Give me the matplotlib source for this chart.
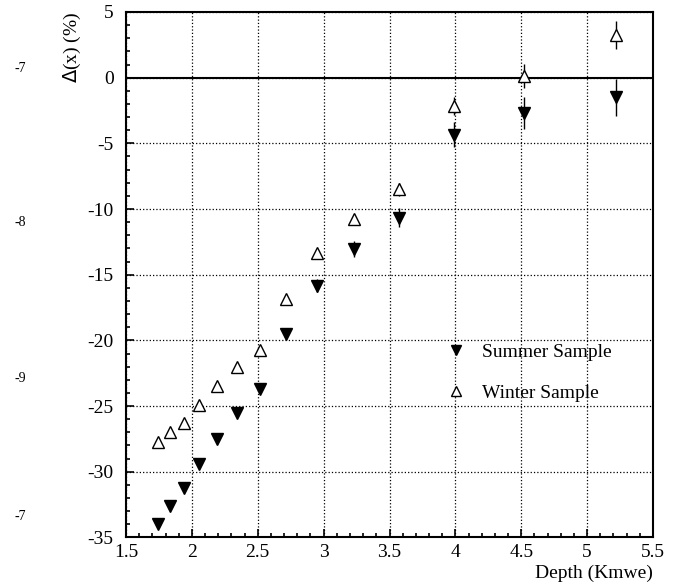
import matplotlib
matplotlib.use("Agg")
from matplotlib import pyplot as plt
from matplotlib.lines import Line2D
from matplotlib.ticker import MultipleLocator, FuncFormatter

plt.rcParams['font.family'] = ['Liberation Serif', 'DejaVu Serif']

# depth of each point (Kmwe)
depth = [1.742, 1.835, 1.942, 2.056, 2.19, 2.342, 2.519, 2.714, 2.95, 3.231, 3.573, 3.993, 4.52, 5.217]

summer = [-33.98, -32.6, -31.24, -29.4, -27.5, -25.5, -23.7, -19.53, -15.83, -13.06, -10.65, -4.35, -2.7, -1.48]
summer_err = [0.15, 0.15, 0.15, 0.2, 0.2, 0.25, 0.3, 0.35, 0.5, 0.6, 0.75, 0.95, 1.2, 1.4]

winter = [-27.73, -27.0, -26.27, -24.9, -23.5, -22.0, -20.73, -16.87, -13.32, -10.78, -8.49, -2.14, 0.14, 3.26]
winter_err = [0.1, 0.1, 0.1, 0.15, 0.15, 0.2, 0.2, 0.25, 0.3, 0.4, 0.5, 0.7, 0.9, 1.05]

side_labels = ['-7', '-8', '-9', '-7']
side_y = [69, 222, 378, 517]

W, H = 678, 586
fig = plt.figure(figsize=(W / 100, H / 100), dpi=100)
ax = fig.add_axes([126 / W, 1 - 537.4 / H, 527 / W, 525.4 / H])

ax.errorbar(depth, summer, yerr=summer_err, fmt='v', color='black', ms=8,
            elinewidth=1, capsize=0, zorder=3)
ax.errorbar(depth, winter, yerr=winter_err, fmt='^', color='black', mfc='white',
            ms=9, mew=1, elinewidth=1, capsize=0, zorder=3)

ax.axhline(0, color='black', lw=1.5, zorder=2)

ax.set_xlim(1.5, 5.5)
ax.set_ylim(-35, 5)
ax.xaxis.set_major_locator(MultipleLocator(0.5))
ax.xaxis.set_minor_locator(MultipleLocator(0.1))
ax.yaxis.set_major_locator(MultipleLocator(5))
ax.yaxis.set_minor_locator(MultipleLocator(1))
ax.xaxis.set_major_formatter(FuncFormatter(lambda v, p: f'{v:g}'))
ax.yaxis.set_major_formatter(FuncFormatter(lambda v, p: f'{v:g}'))
ax.tick_params(which='both', direction='in', labelsize=14, width=1.2)
ax.tick_params(which='major', length=6)
ax.tick_params(which='minor', length=3)
ax.tick_params(axis='y', pad=9)
ax.tick_params(axis='x', pad=5)
ax.grid(True, which='major', linestyle=':', color='black', lw=0.9)
for s in ax.spines.values():
    s.set_linewidth(1.5)

fig.text(653 / W, 1 - 573 / H, 'Depth (Kmwe)', ha='right', va='center', fontsize=14)
fig.text(72 / W, 1 - 12 / H, r'$\Delta$(x) (%)', rotation=90, ha='center', va='top', fontsize=14)

handles = [Line2D([], [], ls='none', marker='v', color='black', ms=6.5),
           Line2D([], [], ls='none', marker='^', color='black', mfc='white', mew=1, ms=7)]
ax.legend(handles, ['Summer Sample', 'Winter Sample'], loc='upper left',
          bbox_to_anchor=(446 / W, 1 - 343 / H), bbox_transform=fig.transFigure,
          frameon=False, fontsize=14, borderpad=0, borderaxespad=0, handlelength=1,
          handletextpad=0.84, labelspacing=1.2)

for lab, yy in zip(side_labels, side_y):
    fig.text(20 / W, 1 - yy / H, lab, ha='center', va='center', fontsize=10)

fig.savefig('out.png', dpi=100)
